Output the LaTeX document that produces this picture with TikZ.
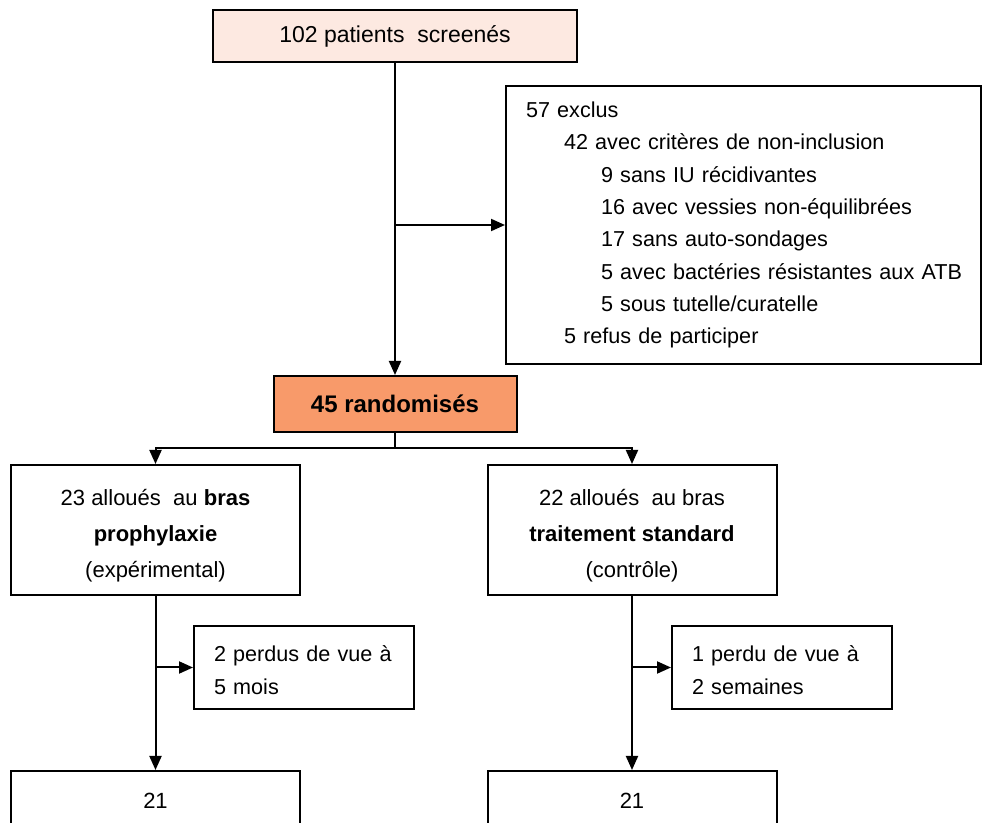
\documentclass[tikz,border=0pt]{standalone}
\usepackage{fontspec}
\setmainfont{Liberation Sans}
\usepackage{tikz}
\usetikzlibrary{arrows.meta,positioning,calc}
\definecolor{peach}{HTML}{FDE9E1}
\definecolor{salmon}{HTML}{F89A6A}
\tikzset{
  >={Triangle[length=7pt,width=6pt]},
  box/.style={draw=black, line width=1pt, fill=white, inner sep=0pt},
  flow/.style={->, line width=1pt},
  link/.style={line width=1pt}
}

\begin{document}
\begin{tikzpicture}[x=.5pt,y=-.5pt,font=\fontsize{11}{16}\selectfont]
  \useasboundingbox (0,0) rectangle (982,823);
  \clip (0,0) rectangle (982,823);

  \node[box,fill=peach,minimum width=182pt,minimum height=26pt,font=\fontsize{11.5}{14}\selectfont] (screen) at (395,36) {102 patients\ \ screenés};
  \node[box,anchor=north west,minimum width=237.5pt,minimum height=139pt,text width=237.5pt,inner xsep=0pt,
    align=left,font=\fontsize{10.8}{16.15}\selectfont] (excl) at (505,85)
    {\hspace*{10pt}57 exclus\\
     \hspace*{29pt}42 avec critères de non-inclusion\\
     \hspace*{47.5pt}9 sans IU récidivantes\\
     \hspace*{47.5pt}16 avec vessies non-équilibrées\\
     \hspace*{47.5pt}17 sans auto-sondages\\
     \hspace*{47.5pt}5 avec bactéries résistantes aux ATB\\
     \hspace*{47.5pt}5 sous tutelle/curatelle\\
     \hspace*{29pt}5 refus de participer};
  \node[box,fill=salmon,minimum width=121.5pt,minimum height=28pt,font=\fontsize{12}{14}\selectfont\bfseries] (rand) at (395,404) {45 randomisés};

  \node[box,minimum width=144.5pt,minimum height=65pt,align=center,font=\fontsize{11}{18}\selectfont] (armA) at (155.5,530)
    {\rule{0pt}{14pt}23 alloués\ \ au \textbf{bras}\\\textbf{prophylaxie}\\(expérimental)};
  \node[box,minimum width=144.5pt,minimum height=65pt,align=center,font=\fontsize{11}{18}\selectfont] (armB) at (632,530)
    {\rule{0pt}{14pt}22 alloués\ \ au bras\\\textbf{traitement standard}\\(contrôle)};

  \node[box,anchor=north west,minimum width=110pt,minimum height=41.5pt,text width=110pt,inner xsep=0pt,
    align=left,font=\fontsize{10.8}{16.5}\selectfont] (lostA) at (193,625) {\hspace*{10pt}\rule{0pt}{11pt}2 perdus de vue à\\\hspace*{10pt}5 mois};
  \node[box,anchor=north west,minimum width=110pt,minimum height=41.5pt,text width=110pt,inner xsep=0pt,
    align=left,font=\fontsize{10.8}{16.5}\selectfont] (lostB) at (671,625) {\hspace*{10pt}\rule{0pt}{11pt}1 perdu de vue à\\\hspace*{10pt}2 semaines};

  \node[box,anchor=north,minimum width=144.5pt,text height=12pt,text depth=40pt,inner ysep=7pt] (finA) at (155.5,770) {21};
  \node[box,anchor=north,minimum width=144.5pt,text height=12pt,text depth=40pt,inner ysep=7pt] (finB) at (632,770) {21};

  \draw[flow] (screen) -- (rand);
  \draw[flow] (screen.south |- excl.west) -- (excl.west);
  \coordinate (split) at (395,448);
  \draw[link] (rand) -- (split);
  \foreach \n in {A,B}{
    \draw[flow] (split) -| (arm\n.north);
    \draw[flow] (arm\n) -- (fin\n);
    \draw[flow] (arm\n.south |- lost\n.west) -- (lost\n.west);
  }
\end{tikzpicture}
\end{document}
